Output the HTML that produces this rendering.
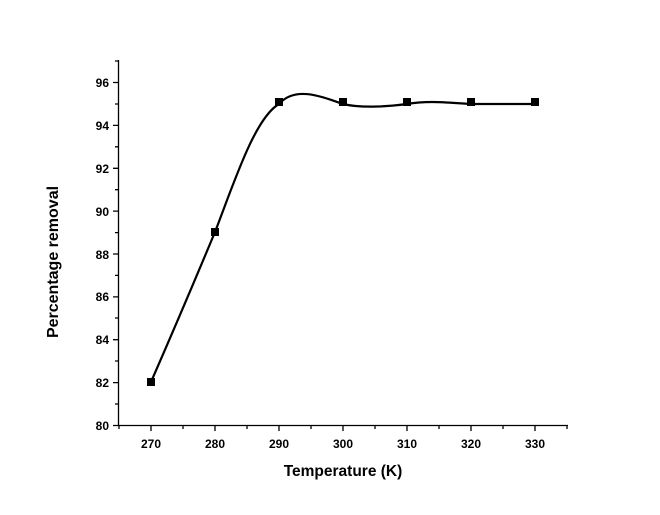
<!DOCTYPE html>
<html><head><style>body{margin:0;background:#fff}</style></head><body>
<svg width="660" height="510" xmlns="http://www.w3.org/2000/svg" font-family="Liberation Sans, Arial, sans-serif">
<rect width="660" height="510" fill="#fff"/>
<g stroke="#000" stroke-width="1.3" fill="none">
<line x1="118.5" y1="60" x2="118.5" y2="425.5"/>
<line x1="118" y1="425.5" x2="568" y2="425.5"/>
<path d="M113,425.5H118 M113,382.6H118 M113,339.7H118 M113,296.9H118 M113,254H118 M113,211.1H118 M113,168.3H118 M113,125.4H118 M113,82.5H118
M115,404H118 M115,361H118 M115,318H118 M115,275.4H118 M115,232.6H118 M115,189.7H118 M115,146.8H118 M115,104H118 M115,61H118"/>
<path d="M151,425V431 M215,425V431 M279,425V431 M343,425V431 M407,425V431 M471,425V431 M535,425V431
M183,425V429 M247,425V429 M311,425V429 M375,425V429 M439,425V429 M503,425V429 M119,425V429 M567,425V429"/>
</g>
<path d="M151,382 C175,327 200,268 215,232 C235,180 255,118 279,104 C295,86 320,96 343,104 C360,108 385,107 407,104 C430,100 450,103 471,104 L535,104" stroke="#000" stroke-width="2.2" fill="none"/>
<g fill="#000">
<rect x="147" y="378" width="8" height="8"/>
<rect x="211" y="228" width="8" height="8"/>
<rect x="275" y="98" width="8" height="8"/>
<rect x="339" y="98" width="8" height="8"/>
<rect x="403" y="98" width="8" height="8"/>
<rect x="467" y="98" width="8" height="8"/>
<rect x="531" y="98" width="8" height="8"/>
</g>
<g font-size="12" font-weight="bold" text-anchor="end">
<text x="109" y="430">80</text><text x="109" y="387">82</text><text x="109" y="344">84</text>
<text x="109" y="301">86</text><text x="109" y="259">88</text><text x="109" y="216">90</text>
<text x="109" y="173">92</text><text x="109" y="130">94</text><text x="109" y="87">96</text>
</g>
<g font-size="12" font-weight="bold" text-anchor="middle">
<text x="151" y="448">270</text><text x="215" y="448">280</text><text x="279" y="448">290</text>
<text x="343" y="448">300</text><text x="407" y="448">310</text><text x="471" y="448">320</text>
<text x="535" y="448">330</text>
<text x="343" y="476" font-size="15.5">Temperature (K)</text>
<text transform="translate(58,262) rotate(-90)" font-size="16">Percentage removal</text>
</g>
</svg>
</body></html>
